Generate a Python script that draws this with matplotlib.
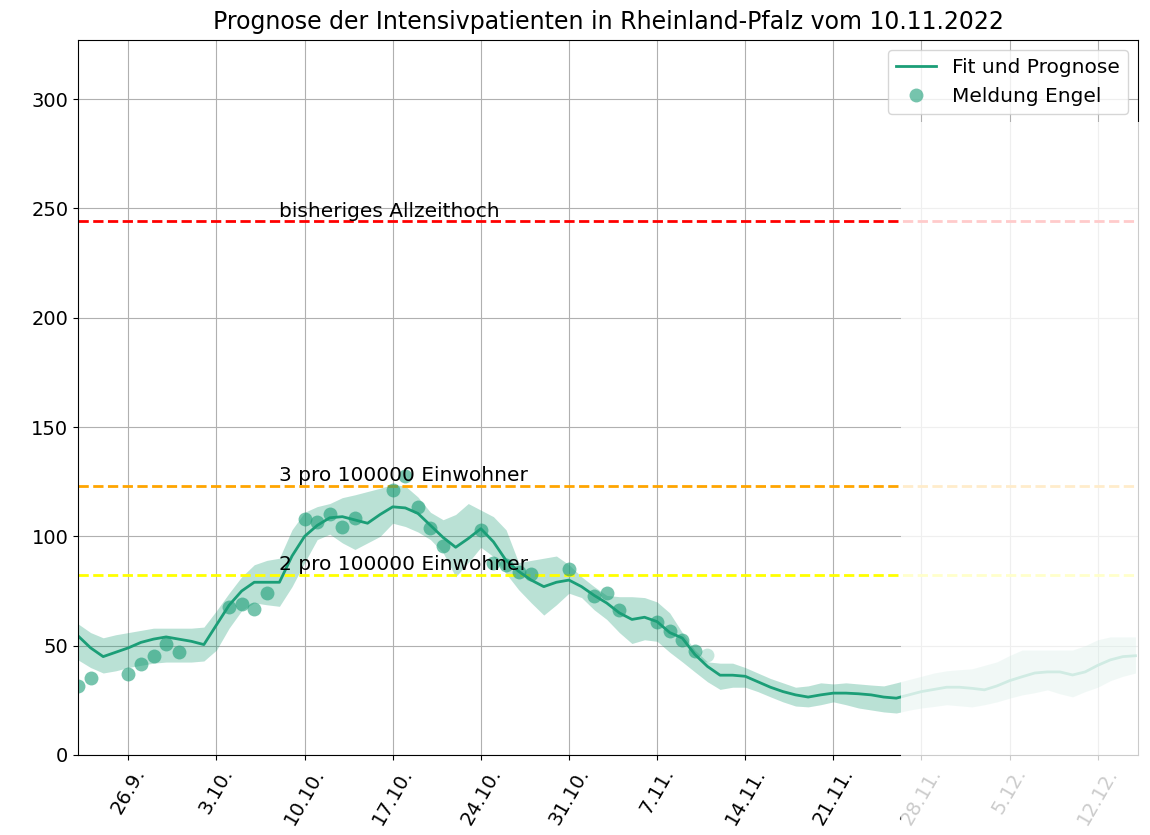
import numpy as np
import matplotlib
matplotlib.use("Agg")
import matplotlib.pyplot as plt
from matplotlib.patches import Rectangle

# days relative to 26.9.2022 (Monday)
tage = np.arange(-4, 81)

fit = [54.5, 49, 45, 47, 49, 51.5, 53, 54, 53, 52, 50.5, 59.5, 68.5, 75, 79, 79, 79,
       91, 100, 105, 108.5, 109, 107.5, 106, 110, 113.5, 113, 110.5, 105, 99.5, 95, 99,
       103.5, 97.5, 89, 84, 80, 77, 79, 80, 77, 73, 69.5, 65, 62, 63, 61, 56, 53.5, 46,
       40.5, 36.5, 36.5, 36, 33.5, 31, 29, 27.5, 26.5, 27.5, 28.3, 28.3, 28, 27.5, 26.5,
       26, 27.5, 29, 30, 31, 31, 30.5, 29.8, 31.6, 34, 35.8, 37.5, 38, 38, 36.6, 38, 41,
       43.5, 45, 45.4]
oben = [60, 56, 53.6, 55, 56, 57, 58, 58, 58, 58, 58.5, 66, 74, 81.5, 87, 89, 90,
        103, 111, 113.6, 115, 117.7, 119, 120.5, 122, 123.7, 123, 118, 111, 107.6, 110, 115,
        112, 109, 103, 88, 89, 90, 91, 87, 81.5, 77, 73, 72.4, 72.4, 72, 70, 65, 56, 48,
        42.6, 42, 42, 40, 37.5, 35, 33, 31, 31.6, 33, 32.5, 33, 32.5, 32, 31.6,
        33, 34.5, 36, 37.5, 38.5, 39, 39.4, 41, 42.6, 45.5, 48, 48, 48, 48, 48, 50, 52.7,
        54, 54, 54]
unten = [43.5, 40, 37.5, 38.5, 40, 41, 42, 42.5, 42.5, 42.5, 43, 48, 58, 66, 69.6, 68.7, 68,
         77, 88, 98.5, 101, 97, 94, 97, 100, 106, 104.5, 102, 98.5, 92.5, 81.5, 88,
         95, 90.7, 83, 75.6, 69.6, 64, 68.7, 74, 72, 66.4, 62, 56, 51, 52.7, 52, 47, 42.6, 38,
         33.5, 30, 31, 31, 29, 26.6, 24.3, 22.4, 22, 23, 24.3, 23, 21.5, 20.6, 19.7,
         19.2, 20.5, 21.5, 22.2, 23, 22.5, 22, 23, 24.3, 26, 27.5, 28.5, 29.8, 28, 26.6, 29, 31,
         34, 36, 37.5]

melde_tage = [-4, -3, 0, 1, 2, 3, 4, 8, 9, 10, 11, 14, 15, 16, 17, 18, 21, 22, 23, 24, 25,
              28, 29, 30, 31, 32, 35, 37, 38, 39, 42, 43, 44, 45]
melde_werte = [31.6, 35.3, 37, 41.7, 45.4, 50.8, 47.2, 67.8, 69, 66.9, 74.2, 108, 106.7, 110.4,
               104.4, 108.6, 121, 127.4, 113.6, 104, 95.7, 103, 88, 87, 83.5, 83, 85, 72.8,
               74, 66.4, 61, 56.8, 52.7, 47.6]
# letzte Meldung (noch unvollstaendig)
letzter_tag = 46
letzter_wert = 45.8

tick_tage = [0, 7, 14, 21, 28, 35, 42, 49, 56, 63, 70, 77]
tick_labels = ["26.9.", "3.10.", "10.10.", "17.10.", "24.10.", "31.10.", "7.11.",
               "14.11.", "21.11.", "28.11.", "5.12.", "12.12."]

grenzen = [244, 123.2, 82.5]
grenz_farben = ["red", "orange", "yellow"]
grenz_texte = ["bisheriges Allzeithoch", "3 pro 100000 Einwohner", "2 pro 100000 Einwohner"]

farbe = "#1b9e77"

fig = plt.figure(figsize=(11.5, 8.35), dpi=100)
ax = fig.add_axes([78/1150, 80/835, (1138-78)/1150, (755-40)/835])

for g, c, t in zip(grenzen, grenz_farben, grenz_texte):
    ax.axhline(g, color=c, ls="--", lw=2)
    ax.text(12, g + 0.3, t, fontsize=14.5, va="bottom")

ax.fill_between(tage, unten, oben, color=farbe, alpha=0.3, lw=0)
ax.plot(tage, fit, color=farbe, lw=2, label="Fit und Prognose")
ax.plot(melde_tage, melde_werte, "o", color=farbe, alpha=0.6, ms=10, mec="none",
        label="Meldung Engel")
ax.plot([letzter_tag], [letzter_wert], "o", color=farbe, alpha=0.25, ms=10, mec="none")

ax.set_xlim(-4, 80.2)
ax.set_ylim(0, 327)
ax.set_yticks([0, 50, 100, 150, 200, 250, 300])
ax.set_xticks(tick_tage)
ax.set_xticklabels(tick_labels, rotation=60)
ax.tick_params(labelsize=14)
ax.grid(True)
ax.set_axisbelow(True)
ax.set_title("Prognose der Intensivpatienten in Rheinland-Pfalz vom 10.11.2022", fontsize=17, pad=8)
ax.legend(loc="upper right", fontsize=14.5)

# Prognosebereich aufhellen
fig.add_artist(Rectangle((901/1150, 0), (1143-901)/1150, (835-122)/835,
                         transform=fig.transFigure, color="white", alpha=0.8, lw=0,
                         zorder=10))

fig.savefig("out.png", dpi=100)
